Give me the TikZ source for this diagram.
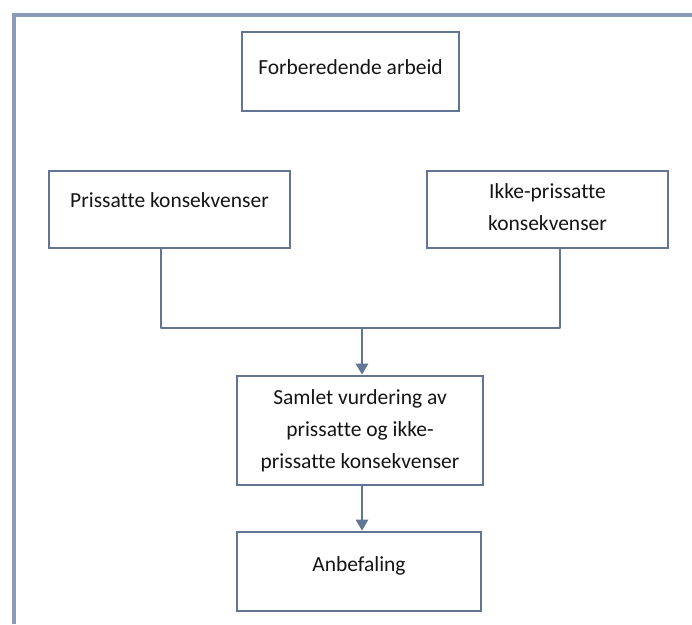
\documentclass[tikz,border=0pt]{standalone}
\usepackage{fontspec}
\setmainfont{Carlito}[Ligatures=NoCommon]
\usetikzlibrary{arrows.meta}
\definecolor{framegray}{RGB}{137,155,184}
\definecolor{boxblue}{RGB}{98,117,148}
\definecolor{inktext}{RGB}{20,20,20}
\tikzset{
  stepbox/.style={draw=boxblue,line width=2.6pt,rectangle,align=center,
    text=inktext,font=\fontsize{21.5}{32}\selectfont,inner sep=0pt},
  link/.style={draw=boxblue,line width=2.6pt},
  flow/.style={link,-{Triangle[length=11pt,width=12pt]}}
}
\begin{document}
\begin{tikzpicture}[x=1pt,y=-1pt]
      \useasboundingbox (0,0) rectangle (692,624);
      \begin{scope}
        % outer frame, running off the right and bottom edges
        \coordinate (fbl) at (14,624);
        \coordinate (ftl) at (14,15);
        \coordinate (ftr) at (692,15);
        \draw[draw=framegray,line width=4pt] (fbl) -- (ftl) -- (ftr);
        \node[stepbox,minimum width=217pt,minimum height=79pt,text depth=8pt] (prep) at (350.5,71.5) {Forberedende arbeid};
        \node[stepbox,minimum width=241pt,minimum height=77pt,text depth=18pt] (priced) at (169.5,209.5) {Prissatte konsekvenser};
        \node[stepbox,minimum width=241pt,minimum height=77pt,text depth=5pt] (unpriced) at (547.5,209.5) {Ikke-prissatte\\konsekvenser};
        \node[stepbox,minimum width=246pt,minimum height=109pt] (joint) at (360,430.5) {Samlet vurdering av\\prissatte og ikke-\\prissatte konsekvenser};
        \node[stepbox,minimum width=244pt,minimum height=79pt,text depth=14pt] (advice) at (359,571.5) {Anbefaling};
        % merge line
        \coordinate (jl) at (161,328);
        \coordinate (jr) at (560,328);
        \coordinate (jm) at (362,328);
        \draw[link,line join=round] (priced.south -| jl) -- (jl) -- (jr) -- (unpriced.south -| jr);
        \draw[flow] (jm) -- (joint.north -| jm);
        \draw[flow] (joint.south -| jm) -- (advice.north -| jm);
      \end{scope}
\end{tikzpicture}
\end{document}
